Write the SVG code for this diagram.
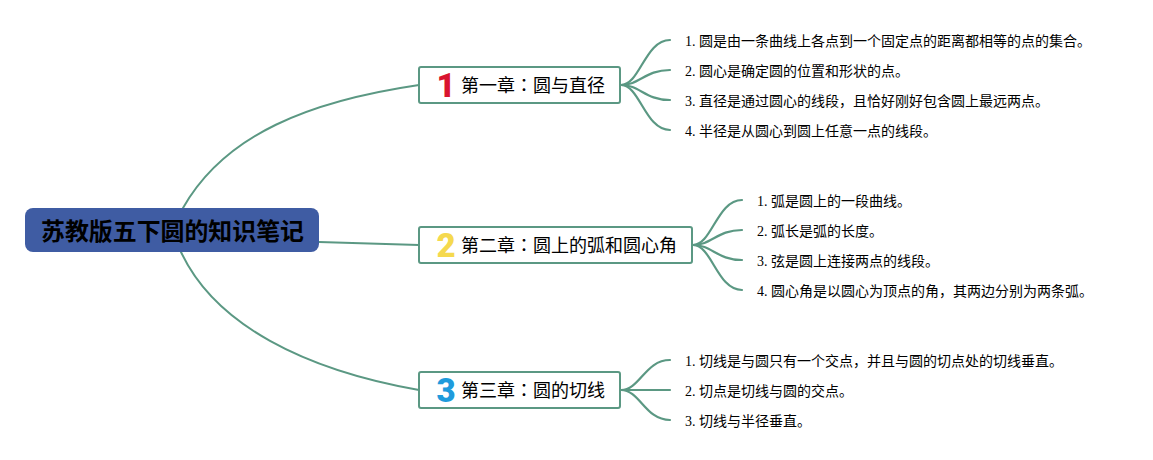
<svg xmlns="http://www.w3.org/2000/svg" width="1153" height="460" viewBox="0 0 1153 460">
<style>
text{font-family:"Liberation Serif","Noto Sans CJK SC",serif;fill:#000}
.c{fill:none;stroke:#5b9883;stroke-width:2;stroke-linecap:round}
.l{stroke-width:2.2}
.b{fill:#fff;stroke:#5b9883;stroke-width:2}
.t{font-size:18px}
.p{font-family:"Noto Sans CJK TC",sans-serif}
.i{font-size:14px}
.n{font-family:Roboto,sans-serif;font-weight:900;font-size:33px;text-anchor:middle}
.r{font-size:24px;font-weight:700;font-family:"Noto Sans CJK SC",sans-serif}
</style>
<g id="connectors">
<path class="c" d="M183 208C225 134 310 101 419 85"/>
<path class="c" d="M319 242L419 245"/>
<path class="c" d="M181 252C215 325 305 370 419 390"/>
<path class="c l" d="M621 85C640 85 645 40 670 40"/>
<path class="c l" d="M621 85C640 85 645 70 670 70"/>
<path class="c l" d="M621 85C640 85 645 100 670 100"/>
<path class="c l" d="M621 85C640 85 645 130 670 130"/>
<path class="c l" d="M693 245C712 245 717 200 742 200"/>
<path class="c l" d="M693 245C712 245 717 230 742 230"/>
<path class="c l" d="M693 245C712 245 717 260 742 260"/>
<path class="c l" d="M693 245C712 245 717 290 742 290"/>
<path class="c l" d="M621 390C640 390 645 360 670 360"/>
<path class="c l" d="M621 390L670 390"/>
<path class="c l" d="M621 390C640 390 645 420 670 420"/>
</g>
<g id="root"><rect x="25" y="208" width="294" height="44" rx="8" fill="#3f5ca3"/><text class="r" x="41" y="240" textLength="263" lengthAdjust="spacingAndGlyphs">苏教版五下圆的知识笔记</text></g>
<g id="ch1"><rect class="b" x="419" y="67" width="201" height="36" rx="2"/><text class="n" x="446" y="96.500" style="fill:#d9142f">1</text><text class="t" x="461" y="92">第一章<tspan class="p">：</tspan>圆与直径</text></g>
<g id="ch2"><rect class="b" x="419" y="227" width="273" height="36" rx="2"/><text class="n" x="446" y="257" style="fill:#f5d94e">2</text><text class="t" x="461" y="252">第二章<tspan class="p">：</tspan>圆上的弧和圆心角</text></g>
<g id="ch3"><rect class="b" x="419" y="372" width="201" height="36" rx="2"/><text class="n" x="446" y="402" style="fill:#1f9bdc">3</text><text class="t" x="461" y="397">第三章<tspan class="p">：</tspan>圆的切线</text></g>
<g id="n11"><text class="i" x="685" y="46">1. 圆是由一条曲线上各点到一个固定点的距离都相等的点的集合。</text></g>
<g id="n12"><text class="i" x="685" y="76">2. 圆心是确定圆的位置和形状的点。</text></g>
<g id="n13"><text class="i" x="685" y="106">3. 直径是通过圆心的线段，且恰好刚好包含圆上最远两点。</text></g>
<g id="n14"><text class="i" x="685" y="136">4. 半径是从圆心到圆上任意一点的线段。</text></g>
<g id="n21"><text class="i" x="757" y="206">1. 弧是圆上的一段曲线。</text></g>
<g id="n22"><text class="i" x="757" y="236">2. 弧长是弧的长度。</text></g>
<g id="n23"><text class="i" x="757" y="266">3. 弦是圆上连接两点的线段。</text></g>
<g id="n24"><text class="i" x="757" y="296">4. 圆心角是以圆心为顶点的角，其两边分别为两条弧。</text></g>
<g id="n31"><text class="i" x="685" y="366">1. 切线是与圆只有一个交点，并且与圆的切点处的切线垂直。</text></g>
<g id="n32"><text class="i" x="685" y="396">2. 切点是切线与圆的交点。</text></g>
<g id="n33"><text class="i" x="685" y="426">3. 切线与半径垂直。</text></g>
</svg>
